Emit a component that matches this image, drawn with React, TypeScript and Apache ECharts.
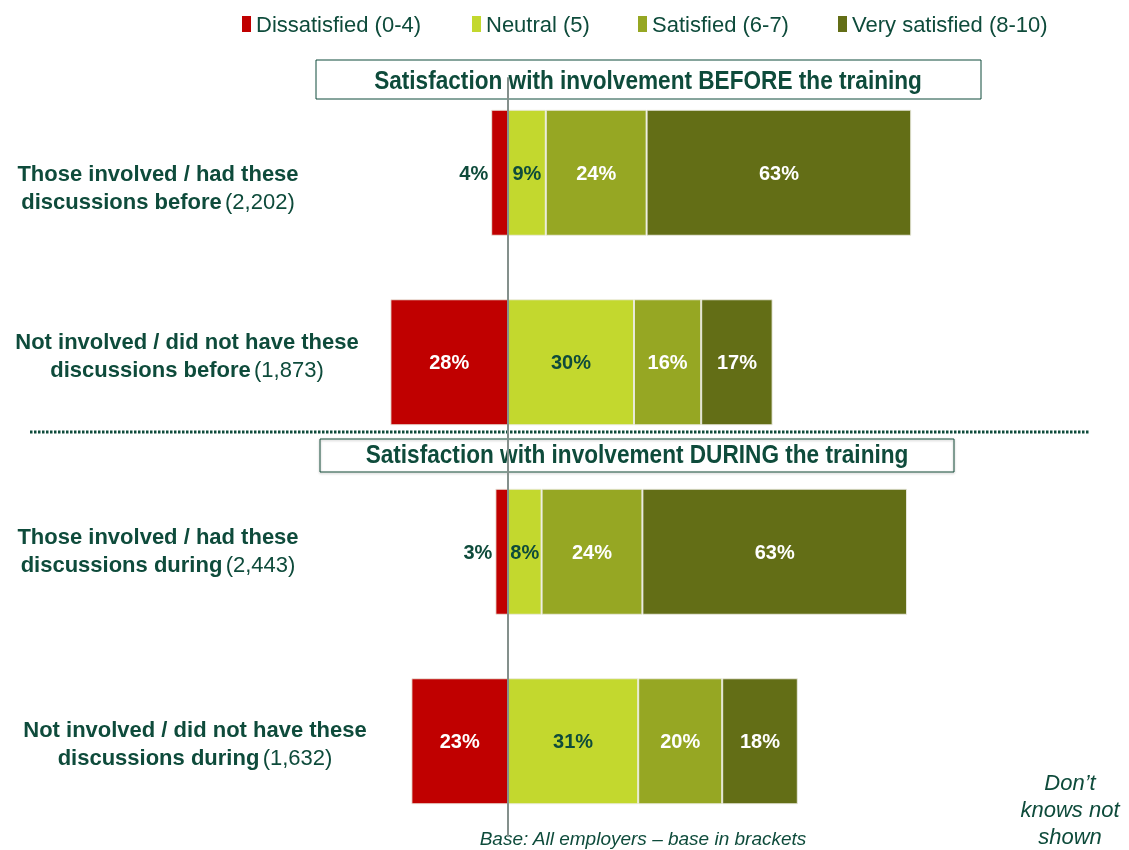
import React, { useEffect, useRef } from "react";
import * as echarts from "echarts";

const seriesNames = ["Dissatisfied (0-4)", "Neutral (5)", "Satisfied (6-7)", "Very satisfied (8-10)"];
const rowKeys = ["before-involved", "before-not", "during-involved", "during-not"];
const rowLine1 = ["Those involved / had these", "Not involved / did not have these", "Those involved / had these", "Not involved / did not have these"];
const rowLine2 = ["discussions before", "discussions before", "discussions during", "discussions during"];
const rowBase = ["(2,202)", "(1,873)", "(2,443)", "(1,632)"];
const dissatisfied = [4, 28, 3, 23];
const neutral = [9, 30, 8, 31];
const satisfied = [24, 16, 24, 20];
const verySatisfied = [63, 17, 63, 18];
const panelTitles = ["Satisfaction with involvement BEFORE the training", "Satisfaction with involvement DURING the training"];

const DARK = "#0E4B3B";
const COLORS = ["#C00000", "#C3D82E", "#96A723", "#636E16"];
const FONT = "Liberation Sans, Arial, sans-serif";

export default function App() {
  const ref = useRef<HTMLDivElement>(null);
  useEffect(() => {
    if (!ref.current) return;
    const chart = echarts.init(ref.current, null, { renderer: "svg" });
    const labelBase = { show: true, fontSize: 20, fontWeight: "bold", fontFamily: FONT, formatter: (p: any) => Math.abs(p.value) + "%" };
    const border = { borderColor: "rgba(235,235,225,0.9)", borderWidth: 1 };
    const rowPos = [
      [158, 187],
      [187, 355],
      [158, 550],
      [195, 743],
    ];
    const legendLefts = [237, 467, 633, 833];
    const option: any = {
      animation: false,
      legend: seriesNames.map((n, i) => ({
        data: [n],
        left: legendLefts[i],
        top: 8,
        icon: "rect",
        itemWidth: 9,
        itemHeight: 16,
        selectedMode: false,
        itemStyle: { borderWidth: 0 },
        textStyle: { fontSize: 22, color: DARK, fontFamily: FONT },
      })),
      grid: { left: 382, right: 33, top: 78, bottom: 14 },
      xAxis: { type: "value", min: -30, max: 140, show: false },
      yAxis: {
        type: "category",
        inverse: true,
        data: rowKeys,
        z: 10,
        axisLine: { show: true, onZero: true, lineStyle: { color: "#84908C", width: 2 } },
        axisTick: { show: false },
        axisLabel: { show: false },
      },
      series: [
        {
          name: seriesNames[0],
          type: "bar",
          stack: "s",
          barWidth: 126,
          itemStyle: { color: COLORS[0], ...border },
          label: { ...labelBase, color: "#fff", position: "inside" },
          data: dissatisfied.map((v) =>
            v < 10 ? { value: -v, label: { position: "left", color: DARK, distance: 3 } } : -v
          ),
        },
        {
          name: seriesNames[1],
          type: "bar",
          stack: "s",
          barWidth: 126,
          itemStyle: { color: COLORS[1], ...border },
          label: { ...labelBase, color: DARK, position: "inside" },
          data: neutral,
        },
        {
          name: seriesNames[2],
          type: "bar",
          stack: "s",
          barWidth: 126,
          itemStyle: { color: COLORS[2], ...border },
          label: { ...labelBase, color: "#fff", position: "inside" },
          data: satisfied,
        },
        {
          name: seriesNames[3],
          type: "bar",
          stack: "s",
          barWidth: 126,
          itemStyle: { color: COLORS[3], ...border },
          label: { ...labelBase, color: "#fff", position: "inside" },
          data: verySatisfied,
        },
      ],
      graphic: [
        ...rowKeys.map((_, i) => ({
          type: "text",
          x: rowPos[i][0],
          y: rowPos[i][1],
          style: {
            text: `{b|${rowLine1[i]}}\n{b|${rowLine2[i]}} {r|${rowBase[i]}}`,
            align: "center",
            verticalAlign: "middle",
            rich: {
              b: { fontSize: 22, fontWeight: "bold", fontFamily: FONT, fill: DARK, lineHeight: 28 },
              r: { fontSize: 22, fontWeight: "normal", fontFamily: FONT, fill: DARK, lineHeight: 28 },
            },
          },
        })),
        {
          type: "rect",
          shape: { x: 316, y: 60, width: 665, height: 39 },
          style: { fill: "none", stroke: DARK, lineWidth: 1 },
        },
        {
          type: "text",
          x: 648,
          y: 80,
          scaleX: 0.87,
          style: { text: panelTitles[0], x: 0, y: 0, align: "center", verticalAlign: "middle", fontSize: 26, fontWeight: "bold", fontFamily: FONT, fill: DARK },
        },
        {
          type: "line",
          shape: { x1: 30, y1: 432, x2: 1090, y2: 432 },
          style: { stroke: DARK, lineWidth: 3, lineDash: [2.5, 1.5] },
        },
        {
          type: "rect",
          shape: { x: 320, y: 439, width: 634, height: 33 },
          style: { fill: "none", stroke: DARK, lineWidth: 1, shadowBlur: 2, shadowOffsetY: 1, shadowColor: "rgba(0,0,0,0.3)" },
        },
        {
          type: "text",
          x: 637,
          y: 454,
          scaleX: 0.87,
          style: { text: panelTitles[1], x: 0, y: 0, align: "center", verticalAlign: "middle", fontSize: 26, fontWeight: "bold", fontFamily: FONT, fill: DARK },
        },
        {
          type: "text",
          x: 1070,
          y: 809,
          style: { text: "Don’t\nknows not\nshown", align: "center", verticalAlign: "middle", fontSize: 22, fontStyle: "italic", fontFamily: FONT, fill: DARK, lineHeight: 27 },
        },
        {
          type: "text",
          x: 643,
          y: 838,
          style: { text: "Base: All employers – base in brackets", align: "center", verticalAlign: "middle", fontSize: 19, fontStyle: "italic", fontFamily: FONT, fill: DARK },
        },
      ],
    };
    chart.setOption(option);
    return () => chart.dispose();
  }, []);
  return <div ref={ref} style={{ position: "fixed", left: 0, top: 0, width: 1129, height: 850 }} />;
}
